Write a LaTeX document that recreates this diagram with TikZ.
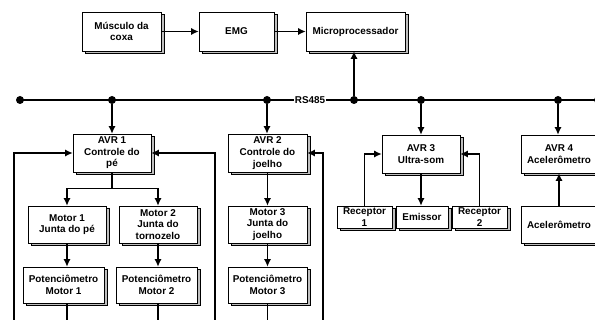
\documentclass[tikz,border=0pt]{standalone}
\usepackage{fontspec}
\setmainfont{Liberation Sans}
\usetikzlibrary{arrows.meta,positioning,shadows}
\tikzset{
  bloco/.style={draw,fill=white,align=center,font=\bfseries\fontsize{9.9}{11.6}\selectfont,
                inner sep=1pt,line width=0.6pt,
                copy shadow={shadow xshift=2.8pt,shadow yshift=-2.8pt,fill=gray!50,draw=black,line width=0.6pt}},
  seta/.style={-{Latex[length=7.5pt,width=7pt]},line width=1.2pt},
  linha/.style={line width=1.2pt},
  ponto/.style={circle,fill,inner sep=0pt,minimum size=8pt},
}

\begin{document}
\begin{tikzpicture}[x=1pt,y=-1pt]
  \useasboundingbox (0,0) rectangle (595,320);
  \clip (0,0) rectangle (595,320);
  % linha superior
  \node[bloco,minimum width=79pt,minimum height=39pt] (musculo) at (121.5,31.5) {Músculo da\\coxa};
  \node[bloco,minimum width=75pt,minimum height=39pt] (emg) at (236.5,31.5) {EMG};
  \node[bloco,minimum width=99pt,minimum height=39pt] (micro) at (355.5,31.5) {Microprocessador};
  \draw[seta] (musculo) -- (emg);
  \draw[seta] (emg) -- (micro);
  % barramento
  \coordinate (b0) at (20,100);
  \coordinate (b9) at (620,100);
  \draw[linha] (b0) -- (b9);
  \node[fill=white,inner sep=1pt,font=\bfseries\fontsize{9.9}{11.6}\selectfont] (rs) at (310,100) {RS485};
  \foreach \x/\n in {20/p0,112/p1,267/p2,354/p3,421/p4,558/p5,598/p6}
    \node[ponto] (\n) at (\x,100) {};
  % controladores
  \node[bloco,minimum width=78pt,minimum height=38pt] (avr1) at (112,153) {AVR 1\\Controle do\\pé};
  \node[bloco,minimum width=79pt,minimum height=38pt] (avr2) at (267.5,153) {AVR 2\\Controle do\\joelho};
  \node[bloco,minimum width=78pt,minimum height=38pt] (avr3) at (421,154) {AVR 3\\Ultra-som};
  \node[bloco,minimum width=76pt,minimum height=38pt] (avr4) at (559,154) {AVR 4\\Acelerômetro};
  \draw[seta] (p1) -- (p1 |- avr1.north);
  \draw[seta] (p2) -- (p2 |- avr2.north);
  \draw[seta] (p3) -- (p3 |- micro.south);
  \draw[seta] (p4) -- (p4 |- avr3.north);
  \draw[seta] (p5) -- (p5 |- avr4.north);
  % motores e potenciometros
  \node[bloco,minimum width=78pt,minimum height=37pt] (motor1) at (67,224.5) {Motor 1\\Junta do pé};
  \node[bloco,minimum width=78pt,minimum height=37pt] (motor2) at (158,224.5) {Motor 2\\Junta do\\tornozelo};
  \node[bloco,minimum width=79pt,minimum height=37pt] (motor3) at (267.5,224.5) {Motor 3\\Junta do\\joelho};
  \node[bloco,minimum width=81pt,minimum height=36pt] (pot1) at (63.5,285) {Potenciômetro\\Motor 1};
  \node[bloco,minimum width=81pt,minimum height=36pt] (pot2) at (156.5,285) {Potenciômetro\\Motor 2};
  \node[bloco,minimum width=79pt,minimum height=36pt] (pot3) at (267.5,285) {Potenciômetro\\Motor 3};
  \draw[linha] (avr1.south) -- ++(0,16) coordinate (r1);
  \draw[seta] (r1) -| (motor1.north);
  \draw[seta] (r1) -| (motor2.north);
  \draw[seta] (avr2.south) -- (motor3.north);
  \draw[seta] (motor1.south) -- (motor1.south |- pot1.north);
  \draw[seta] (motor2.south) -- (motor2.south |- pot2.north);
  \draw[seta] (motor3.south) -- (pot3.north);
  \draw[linha] (motor1.south |- pot1.south) -- ++(0,30);
  \draw[linha] (motor2.south |- pot2.south) -- ++(0,30);
  \draw[linha] (pot3.south) -- ++(0,30);
  % realimentacao
  \coordinate (e1) at (14,330);
  \coordinate (e2) at (215,330);
  \coordinate (e3) at (323,330);
  \draw[seta] (e1) |- (avr1.west);
  \draw[seta] (e2) |- (avr1.east);
  \draw[seta] (e3) |- (avr2.east);
  % ultra-som
  \node[bloco,minimum width=55pt,minimum height=22pt] (rec1) at (364.5,217) {Receptor\\1};
  \node[bloco,minimum width=52pt,minimum height=22pt] (emissor) at (422,217) {Emissor};
  \node[bloco,minimum width=55pt,minimum height=22pt] (rec2) at (479.5,217) {Receptor\\2};
  \draw[seta] (rec1.north) |- (avr3.west);
  \draw[seta] (rec2.north) |- (avr3.east);
  \draw[seta] (avr3.south) -- (avr3.south |- emissor.north);
  % acelerometro
  \node[bloco,minimum width=76pt,minimum height=37pt] (acel) at (559,224.5) {Acelerômetro};
  \draw[seta] (acel) -- (avr4);
\end{tikzpicture}
\end{document}
